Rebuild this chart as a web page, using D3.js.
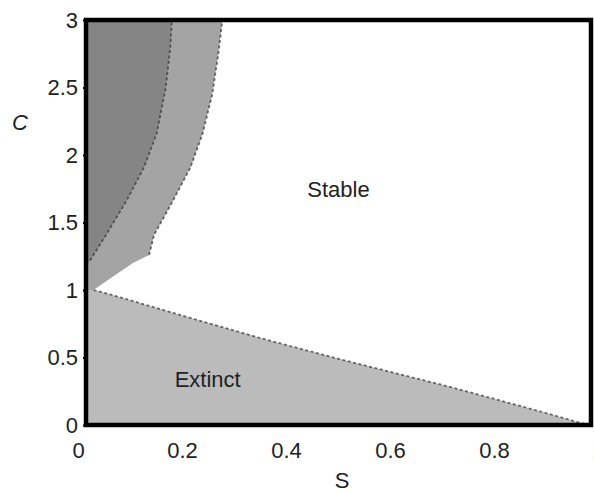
<!DOCTYPE html>
<html><head><meta charset="utf-8">
<script src="https://cdn.jsdelivr.net/npm/d3@7"></script>
<style>body{margin:0;background:#fff}svg{display:block}text{font-family:"Liberation Sans",Arial,sans-serif}</style>
</head><body>
<svg id="c" width="594" height="494"></svg>
<script>
const xTicks = [0, 0.2, 0.4, 0.6, 0.8, 1];
const yTicks = [0, 0.5, 1, 1.5, 2, 2.5, 3];
const xTickLabels = ["0", "0.2", "0.4", "0.6", "0.8", "1"];
const yTickLabels = ["0", "0.5", "1", "1.5", "2", "2.5", "3"];
// Extinct boundary (S, C)
const extinctBoundary = [[0.015,1.0],[0.05,0.965],[0.2,0.8],[0.344,0.645],[0.5,0.49],[0.72,0.283],[0.9,0.1],[0.98,0.015],[1,0]];
// outer boundary of the medium-gray band (S, C)
const bandOuter = [[0.015,1.0],[0.05,1.09],[0.093,1.2],[0.125,1.26],[0.135,1.41],[0.172,1.66],[0.207,1.91],[0.231,2.16],[0.25,2.45],[0.262,2.75],[0.27,3]];
// boundary between dark region and medium band (S, C)
const darkBoundary = [[0,1.19],[0.01,1.23],[0.04,1.41],[0.08,1.66],[0.115,1.91],[0.14,2.16],[0.158,2.5],[0.167,2.8],[0.17,3]];
const regionLabels = [{t:"Stable", s:0.5, c:1.69}, {t:"Extinct", s:0.241, c:0.28}];

const svg = d3.select("#c");
const x = d3.scaleLinear().domain([0,1]).range([86,591]);
const y = d3.scaleLinear().domain([0,3]).range([425,20]);
const xLab = d3.scaleLinear().domain([0,1]).range([78,598]);
const line = d3.line().x(d=>x(d[0])).y(d=>y(d[1]));

const g = svg.append("g");
g.append("path").attr("d", line([[0,0],[0,1.0],...extinctBoundary,[1,0]]) + "Z").attr("fill","#bbbbbb");
g.append("path").attr("d", line([[0,1.0],...bandOuter,[0,3]]) + "Z").attr("fill","#a4a4a4");
g.append("path").attr("d", line([...darkBoundary,[0,3]]) + "Z").attr("fill","#858585");
[extinctBoundary, bandOuter.slice(3), darkBoundary].forEach(b=>{
  g.append("path").attr("d", line(b)).attr("fill","none").attr("stroke","#333")
   .attr("stroke-width",1.8).attr("stroke-dasharray","3,2.5").attr("opacity",0.7);
});

// frame
svg.append("rect").attr("x",x(0)).attr("y",y(3)).attr("width",x(1)-x(0)).attr("height",y(0)-y(3))
  .attr("fill","none").attr("stroke","#000").attr("stroke-width",4.5);

// axes
const xa = svg.append("g").attr("transform",`translate(0,${y(0)})`)
  .call(d3.axisBottom(xLab).tickValues(xTicks).tickFormat((d,i)=>xTickLabels[i]).tickSize(0).tickPadding(17));
const ya = svg.append("g").attr("transform",`translate(${x(0)},0)`)
  .call(d3.axisLeft(y).tickValues(yTicks).tickFormat((d,i)=>yTickLabels[i]).tickSize(3).tickPadding(5));
[xa,ya].forEach(a=>{
  a.select(".domain").remove();
  a.selectAll("text").attr("font-size",22).attr("fill","#222").attr("font-family","Liberation Sans, Arial, sans-serif");
  a.selectAll("line").attr("stroke","#000").attr("stroke-width",2);
});

// axis titles
svg.append("text").attr("x",342).attr("y",488).attr("text-anchor","middle").attr("font-size",22).attr("fill","#222").text("S");
svg.append("text").attr("x",20).attr("y",130).attr("text-anchor","middle").attr("font-size",22).attr("font-style","italic").attr("fill","#222").text("C");

regionLabels.forEach(l=>{
  svg.append("text").attr("x",x(l.s)).attr("y",y(l.c)).attr("text-anchor","middle")
    .attr("font-size",22).attr("fill","#222").text(l.t);
});
</script>
</body></html>
